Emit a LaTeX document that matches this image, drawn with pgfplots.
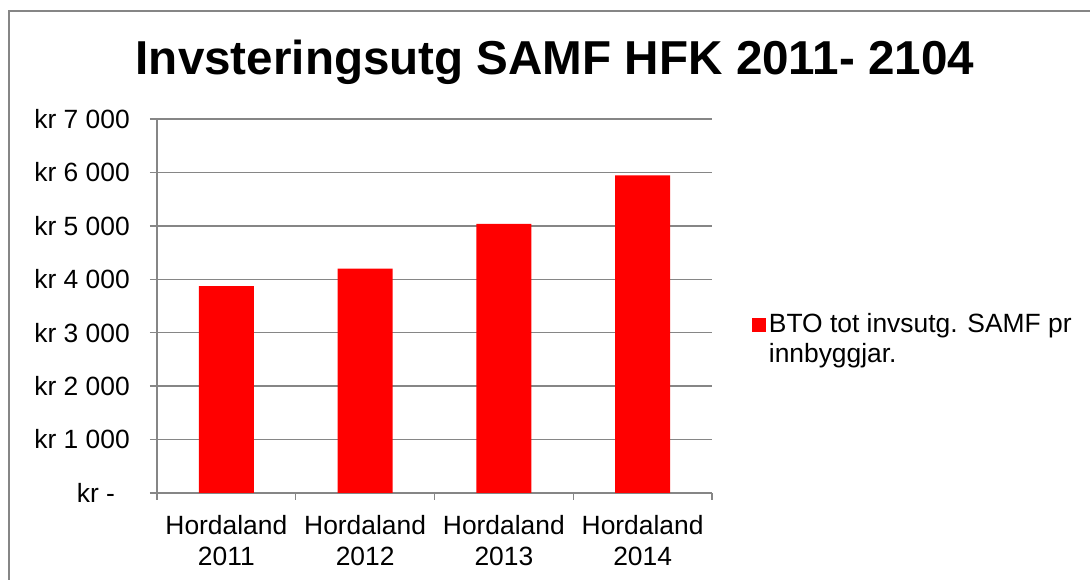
\documentclass[border=0pt]{standalone}
\usepackage{fontspec}
\setmainfont{Liberation Sans}
\usepackage{pgfplots}
\pgfplotsset{compat=1.18}
\definecolor{axgray}{RGB}{134,134,134}
\begin{document}
\begin{tikzpicture}
\useasboundingbox (0,0) rectangle (817.5pt,435pt);
\draw[axgray, line width=1.1pt] (6.75pt,-5pt) -- (6.75pt,426.75pt) -- (830pt,426.75pt);
\node[anchor=base, font=\bfseries\fontsize{35.7}{42}\selectfont, inner sep=0pt] at (416.25pt,378.75pt) {Invsteringsutg SAMF HFK 2011- 2104};
\begin{axis}[
  at={(117.75pt,65.25pt)}, anchor=south west,
  scale only axis, width=416.25pt, height=280.5pt,
  xmin=-0.5, xmax=3.5, ymin=0, ymax=7000,
  axis x line*=bottom, axis y line*=left,
  axis line style={axgray, line width=1.1pt, -},
  every tick/.style={axgray, line width=1.1pt},
  /pgf/number format/assume math mode=true,
  ytick={0,1000,2000,3000,4000,5000,6000,7000},
  yticklabels={kr -\hphantom{0},kr 1 000,kr 2 000,kr 3 000,kr 4 000,kr 5 000,kr 6 000,kr 7 000},
  yticklabel style={anchor=east, inner sep=0pt, xshift=-15pt, font=\fontsize{19.8}{23.25}\selectfont},
  ymajorgrids, grid style={axgray, line width=1.1pt},
  xtick={-0.5,0.5,1.5,2.5,3.5},
  xticklabels={},
  extra x ticks={0,1,2,3},
  extra x tick labels={{Hordaland\\2011},{Hordaland\\2012},{Hordaland\\2013},{Hordaland\\2014}},
  extra x tick style={major tick length=0pt, grid=none},
  xticklabel style={align=center, inner sep=0pt, yshift=-16.5pt, font=\fontsize{19.8}{23.25}\selectfont},
  tick align=outside,
  major tick length=5.25pt,
  ybar, bar width=41.25pt,
  legend cell align=left,
  legend style={draw=none, fill=none, inner sep=0pt, anchor=north west,
    at={(1.072,0.489)}, cells={align=left}, column sep=0pt,
    nodes={inner sep=2pt}, font=\fontsize{19.8}{22.5}\selectfont},
  legend image code/.code={\fill[red] (0pt,5.25pt) rectangle (10.5pt,15.75pt);},
]
\addplot[fill=red, draw=none] coordinates {(0,3870) (1,4200) (2,5035) (3,5945)};
\addlegendentry{BTO tot invsutg. SAMF pr\\innbyggjar.}
\end{axis}
\end{tikzpicture}
\end{document}
